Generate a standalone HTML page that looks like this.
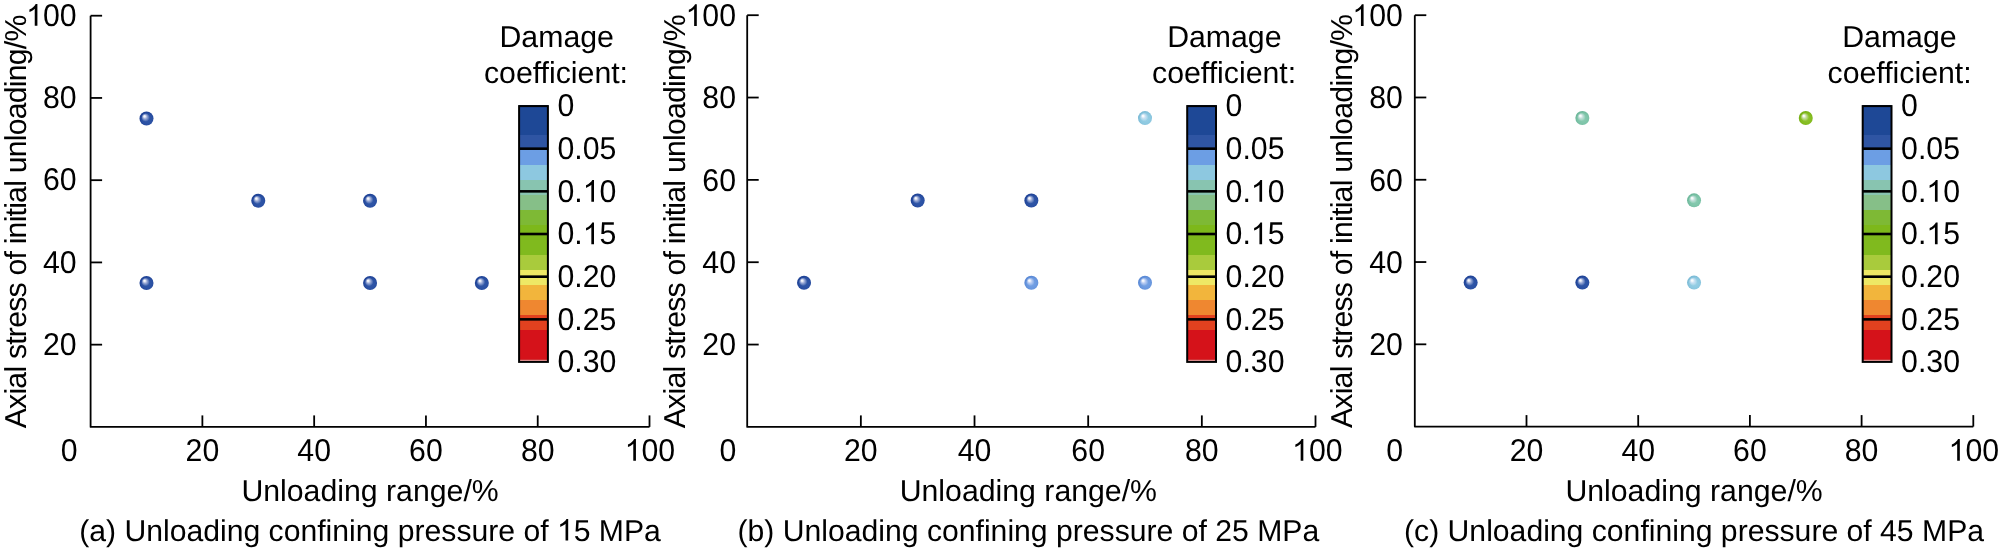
<!DOCTYPE html><html><head><meta charset="utf-8"><style>html,body{margin:0;padding:0;background:#fff;overflow:hidden;}svg{display:block;will-change:transform;}text{font-family:"Liberation Sans", sans-serif;fill:#000;text-rendering:geometricPrecision;}</style></head><body>
<svg width="2000" height="551" viewBox="0 0 2000 551">
<defs>
<radialGradient id="bdb" cx="0.55" cy="0.55" r="0.55"><stop offset="0" stop-color="#3259a9"/><stop offset="0.7" stop-color="#2a50a3"/><stop offset="1" stop-color="#1c3f93"/></radialGradient>
<radialGradient id="gdb" cx="0.5" cy="0.5" r="0.5" fx="0.34" fy="0.32"><stop offset="0" stop-color="#fff" stop-opacity="1"/><stop offset="0.13" stop-color="#fff" stop-opacity="0.9"/><stop offset="0.33" stop-color="#f4f0ff" stop-opacity="0.5"/><stop offset="0.6" stop-color="#fff" stop-opacity="0"/></radialGradient>
<radialGradient id="bmb" cx="0.55" cy="0.55" r="0.55"><stop offset="0" stop-color="#79a5e6"/><stop offset="0.7" stop-color="#6a98df"/><stop offset="1" stop-color="#5585d3"/></radialGradient>
<radialGradient id="gmb" cx="0.5" cy="0.5" r="0.5" fx="0.34" fy="0.32"><stop offset="0" stop-color="#fff" stop-opacity="1"/><stop offset="0.13" stop-color="#fff" stop-opacity="0.9"/><stop offset="0.33" stop-color="#f4f0ff" stop-opacity="0.5"/><stop offset="0.6" stop-color="#fff" stop-opacity="0"/></radialGradient>
<radialGradient id="blb" cx="0.55" cy="0.55" r="0.55"><stop offset="0" stop-color="#9ad0e6"/><stop offset="0.7" stop-color="#8cc8e0"/><stop offset="1" stop-color="#78b8d4"/></radialGradient>
<radialGradient id="glb" cx="0.5" cy="0.5" r="0.5" fx="0.34" fy="0.32"><stop offset="0" stop-color="#fff" stop-opacity="1"/><stop offset="0.13" stop-color="#fff" stop-opacity="0.9"/><stop offset="0.33" stop-color="#f4f0ff" stop-opacity="0.5"/><stop offset="0.6" stop-color="#fff" stop-opacity="0"/></radialGradient>
<radialGradient id="btl" cx="0.55" cy="0.55" r="0.55"><stop offset="0" stop-color="#8bccb3"/><stop offset="0.7" stop-color="#7dc4a8"/><stop offset="1" stop-color="#69b598"/></radialGradient>
<radialGradient id="gtl" cx="0.5" cy="0.5" r="0.5" fx="0.34" fy="0.32"><stop offset="0" stop-color="#fff" stop-opacity="1"/><stop offset="0.13" stop-color="#fff" stop-opacity="0.9"/><stop offset="0.33" stop-color="#f4f0ff" stop-opacity="0.5"/><stop offset="0.6" stop-color="#fff" stop-opacity="0"/></radialGradient>
<radialGradient id="bgr" cx="0.55" cy="0.55" r="0.55"><stop offset="0" stop-color="#92c534"/><stop offset="0.7" stop-color="#84bc1f"/><stop offset="1" stop-color="#74ad12"/></radialGradient>
<radialGradient id="ggr" cx="0.5" cy="0.5" r="0.5" fx="0.34" fy="0.32"><stop offset="0" stop-color="#fff" stop-opacity="1"/><stop offset="0.13" stop-color="#fff" stop-opacity="0.9"/><stop offset="0.33" stop-color="#f4f0ff" stop-opacity="0.5"/><stop offset="0.6" stop-color="#fff" stop-opacity="0"/></radialGradient>
</defs>
<rect width="2000" height="551" fill="#fff"/>
<path d="M90.6 15.7 V426.9 H649.5" fill="none" stroke="#000" stroke-width="1.8" stroke-linejoin="round"/>
<line x1="202.38" y1="426.9" x2="202.38" y2="415.4" stroke="#000" stroke-width="1.8"/>
<line x1="90.6" y1="344.66" x2="102.1" y2="344.66" stroke="#000" stroke-width="1.8"/>
<line x1="314.16" y1="426.9" x2="314.16" y2="415.4" stroke="#000" stroke-width="1.8"/>
<line x1="90.6" y1="262.42" x2="102.1" y2="262.42" stroke="#000" stroke-width="1.8"/>
<line x1="425.94" y1="426.9" x2="425.94" y2="415.4" stroke="#000" stroke-width="1.8"/>
<line x1="90.6" y1="180.18" x2="102.1" y2="180.18" stroke="#000" stroke-width="1.8"/>
<line x1="537.72" y1="426.9" x2="537.72" y2="415.4" stroke="#000" stroke-width="1.8"/>
<line x1="90.6" y1="97.94" x2="102.1" y2="97.94" stroke="#000" stroke-width="1.8"/>
<line x1="649.50" y1="426.9" x2="649.50" y2="415.4" stroke="#000" stroke-width="1.8"/>
<line x1="90.6" y1="15.70" x2="102.1" y2="15.70" stroke="#000" stroke-width="1.8"/>
<text transform="translate(60.64 460.80) scale(1 1.04)" font-size="30.25">0</text>
<text transform="translate(185.56 460.80) scale(1 1.04)" font-size="30.25">20</text>
<text transform="translate(297.34 460.80) scale(1 1.04)" font-size="30.25">40</text>
<text transform="translate(409.12 460.80) scale(1 1.04)" font-size="30.25">60</text>
<text transform="translate(520.90 460.80) scale(1 1.04)" font-size="30.25">80</text>
<text transform="translate(624.66 460.80) scale(1 1.04)" font-size="30.25"> 00</text><path transform="translate(624.66 460.80) scale(0.014771 -0.014771)" d="M763 0H583V1147Q518 1085 412.5 1023Q307 961 223 930V1104Q374 1175 487 1276Q600 1377 647 1472H763Z"/>
<text transform="translate(42.95 354.76) scale(1 1.04)" font-size="30.25">20</text>
<text transform="translate(42.95 272.52) scale(1 1.04)" font-size="30.25">40</text>
<text transform="translate(42.95 190.28) scale(1 1.04)" font-size="30.25">60</text>
<text transform="translate(42.95 108.04) scale(1 1.04)" font-size="30.25">80</text>
<text transform="translate(26.13 25.80) scale(1 1.04)" font-size="30.25"> 00</text><path transform="translate(26.13 25.80) scale(0.014771 -0.014771)" d="M763 0H583V1147Q518 1085 412.5 1023Q307 961 223 930V1104Q374 1175 487 1276Q600 1377 647 1472H763Z"/>
<text x="370.05" y="500.6" font-size="30.25" text-anchor="middle">Unloading range/%</text>
<text id="capa" x="370.05" y="540.6" font-size="30.17" text-anchor="middle">(a) Unloading confining pressure of  5 MPa</text>
<path transform="translate(556.95 540.6) scale(0.014731 -0.014731)" d="M763 0H583V1147Q518 1085 412.5 1023Q307 961 223 930V1104Q374 1175 487 1276Q600 1377 647 1472H763Z"/>
<text transform="translate(25.6 221.50) rotate(-90)" x="0" y="0" font-size="30.25" text-anchor="middle" textLength="413.6" lengthAdjust="spacing">Axial stress of initial unloading/%</text>
<text x="556.70" y="46.5" font-size="30.25" text-anchor="middle">Damage</text>
<text x="556.00" y="82.5" font-size="30.25" text-anchor="middle">coefficient:</text>
<rect x="519.00" y="105" width="29" height="30" fill="#1e4896"/>
<rect x="519.00" y="135" width="29" height="15" fill="#2f55a3"/>
<rect x="519.00" y="150" width="29" height="15" fill="#6c9ee4"/>
<rect x="519.00" y="165" width="29" height="15" fill="#8dc8e0"/>
<rect x="519.00" y="180" width="29" height="15" fill="#88c4b0"/>
<rect x="519.00" y="195" width="29" height="15" fill="#86bf88"/>
<rect x="519.00" y="210" width="29" height="15" fill="#7eb935"/>
<rect x="519.00" y="225" width="29" height="15" fill="#7db81b"/>
<rect x="519.00" y="240" width="29" height="15" fill="#80ba1e"/>
<rect x="519.00" y="255" width="29" height="15" fill="#a9cb3c"/>
<rect x="519.00" y="270" width="29" height="15" fill="#eee865"/>
<rect x="519.00" y="285" width="29" height="15" fill="#f2b53c"/>
<rect x="519.00" y="300" width="29" height="15" fill="#ef8730"/>
<rect x="519.00" y="315" width="29" height="15" fill="#e2411f"/>
<rect x="519.00" y="330" width="29" height="29" fill="#d5121a"/>
<rect x="519.00" y="359" width="29" height="0.8999999999999773" fill="#c80c12"/>
<rect x="519.00" y="359.9" width="29" height="1.1000000000000227" fill="#f19a9a"/>
<line x1="519.00" y1="148.67" x2="548.00" y2="148.67" stroke="#000" stroke-width="2.6"/>
<line x1="519.00" y1="191.34" x2="548.00" y2="191.34" stroke="#000" stroke-width="2.6"/>
<line x1="519.00" y1="234.01" x2="548.00" y2="234.01" stroke="#000" stroke-width="2.6"/>
<line x1="519.00" y1="276.68" x2="548.00" y2="276.68" stroke="#000" stroke-width="2.6"/>
<line x1="519.00" y1="319.35" x2="548.00" y2="319.35" stroke="#000" stroke-width="2.6"/>
<rect x="519.10" y="106.1" width="28.8" height="255.8" fill="none" stroke="#000" stroke-width="2"/>
<text transform="translate(557.50 116.30) scale(1 1.04)" font-size="30.25">0</text>
<text transform="translate(557.50 158.97) scale(1 1.04)" font-size="30.25">0.05</text>
<text transform="translate(557.50 201.64) scale(1 1.04)" font-size="30.25">0. 0</text><path transform="translate(582.73 201.64) scale(0.014771 -0.014771)" d="M763 0H583V1147Q518 1085 412.5 1023Q307 961 223 930V1104Q374 1175 487 1276Q600 1377 647 1472H763Z"/>
<text transform="translate(557.50 244.31) scale(1 1.04)" font-size="30.25">0. 5</text><path transform="translate(582.73 244.31) scale(0.014771 -0.014771)" d="M763 0H583V1147Q518 1085 412.5 1023Q307 961 223 930V1104Q374 1175 487 1276Q600 1377 647 1472H763Z"/>
<text transform="translate(557.50 286.98) scale(1 1.04)" font-size="30.25">0.20</text>
<text transform="translate(557.50 329.65) scale(1 1.04)" font-size="30.25">0.25</text>
<text transform="translate(557.50 372.32) scale(1 1.04)" font-size="30.25">0.30</text>
<circle cx="146.49" cy="118.50" r="7" fill="url(#bdb)"/>
<circle cx="146.49" cy="118.50" r="7" fill="url(#gdb)"/>
<circle cx="258.27" cy="200.74" r="7" fill="url(#bdb)"/>
<circle cx="258.27" cy="200.74" r="7" fill="url(#gdb)"/>
<circle cx="370.05" cy="200.74" r="7" fill="url(#bdb)"/>
<circle cx="370.05" cy="200.74" r="7" fill="url(#gdb)"/>
<circle cx="146.49" cy="282.98" r="7" fill="url(#bdb)"/>
<circle cx="146.49" cy="282.98" r="7" fill="url(#gdb)"/>
<circle cx="370.05" cy="282.98" r="7" fill="url(#bdb)"/>
<circle cx="370.05" cy="282.98" r="7" fill="url(#gdb)"/>
<circle cx="481.83" cy="282.98" r="7" fill="url(#bdb)"/>
<circle cx="481.83" cy="282.98" r="7" fill="url(#gdb)"/>
<path d="M747.2 15.2 V426.9 H1315.5" fill="none" stroke="#000" stroke-width="1.8" stroke-linejoin="round"/>
<line x1="860.86" y1="426.9" x2="860.86" y2="415.4" stroke="#000" stroke-width="1.8"/>
<line x1="747.2" y1="344.56" x2="758.7" y2="344.56" stroke="#000" stroke-width="1.8"/>
<line x1="974.52" y1="426.9" x2="974.52" y2="415.4" stroke="#000" stroke-width="1.8"/>
<line x1="747.2" y1="262.22" x2="758.7" y2="262.22" stroke="#000" stroke-width="1.8"/>
<line x1="1088.18" y1="426.9" x2="1088.18" y2="415.4" stroke="#000" stroke-width="1.8"/>
<line x1="747.2" y1="179.88" x2="758.7" y2="179.88" stroke="#000" stroke-width="1.8"/>
<line x1="1201.84" y1="426.9" x2="1201.84" y2="415.4" stroke="#000" stroke-width="1.8"/>
<line x1="747.2" y1="97.54" x2="758.7" y2="97.54" stroke="#000" stroke-width="1.8"/>
<line x1="1315.50" y1="426.9" x2="1315.50" y2="415.4" stroke="#000" stroke-width="1.8"/>
<line x1="747.2" y1="15.20" x2="758.7" y2="15.20" stroke="#000" stroke-width="1.8"/>
<text transform="translate(719.39 460.80) scale(1 1.04)" font-size="30.25">0</text>
<text transform="translate(844.04 460.80) scale(1 1.04)" font-size="30.25">20</text>
<text transform="translate(957.70 460.80) scale(1 1.04)" font-size="30.25">40</text>
<text transform="translate(1071.36 460.80) scale(1 1.04)" font-size="30.25">60</text>
<text transform="translate(1185.02 460.80) scale(1 1.04)" font-size="30.25">80</text>
<text transform="translate(1292.06 460.80) scale(1 1.04)" font-size="30.25"> 00</text><path transform="translate(1292.06 460.80) scale(0.014771 -0.014771)" d="M763 0H583V1147Q518 1085 412.5 1023Q307 961 223 930V1104Q374 1175 487 1276Q600 1377 647 1472H763Z"/>
<text transform="translate(702.35 355.36) scale(1 1.04)" font-size="30.25">20</text>
<text transform="translate(702.35 273.02) scale(1 1.04)" font-size="30.25">40</text>
<text transform="translate(702.35 190.68) scale(1 1.04)" font-size="30.25">60</text>
<text transform="translate(702.35 108.34) scale(1 1.04)" font-size="30.25">80</text>
<text transform="translate(685.53 26.00) scale(1 1.04)" font-size="30.25"> 00</text><path transform="translate(685.53 26.00) scale(0.014771 -0.014771)" d="M763 0H583V1147Q518 1085 412.5 1023Q307 961 223 930V1104Q374 1175 487 1276Q600 1377 647 1472H763Z"/>
<text x="1028.35" y="500.6" font-size="30.25" text-anchor="middle">Unloading range/%</text>
<text id="capb" x="1028.35" y="540.6" font-size="30.17" text-anchor="middle">(b) Unloading confining pressure of 25 MPa</text>
<text transform="translate(684.7 221.35) rotate(-90)" x="0" y="0" font-size="30.25" text-anchor="middle" textLength="413.9" lengthAdjust="spacing">Axial stress of initial unloading/%</text>
<text x="1224.30" y="46.5" font-size="30.25" text-anchor="middle">Damage</text>
<text x="1224.10" y="82.5" font-size="30.25" text-anchor="middle">coefficient:</text>
<rect x="1187.10" y="105" width="29" height="30" fill="#1e4896"/>
<rect x="1187.10" y="135" width="29" height="15" fill="#2f55a3"/>
<rect x="1187.10" y="150" width="29" height="15" fill="#6c9ee4"/>
<rect x="1187.10" y="165" width="29" height="15" fill="#8dc8e0"/>
<rect x="1187.10" y="180" width="29" height="15" fill="#88c4b0"/>
<rect x="1187.10" y="195" width="29" height="15" fill="#86bf88"/>
<rect x="1187.10" y="210" width="29" height="15" fill="#7eb935"/>
<rect x="1187.10" y="225" width="29" height="15" fill="#7db81b"/>
<rect x="1187.10" y="240" width="29" height="15" fill="#80ba1e"/>
<rect x="1187.10" y="255" width="29" height="15" fill="#a9cb3c"/>
<rect x="1187.10" y="270" width="29" height="15" fill="#eee865"/>
<rect x="1187.10" y="285" width="29" height="15" fill="#f2b53c"/>
<rect x="1187.10" y="300" width="29" height="15" fill="#ef8730"/>
<rect x="1187.10" y="315" width="29" height="15" fill="#e2411f"/>
<rect x="1187.10" y="330" width="29" height="29" fill="#d5121a"/>
<rect x="1187.10" y="359" width="29" height="0.8999999999999773" fill="#c80c12"/>
<rect x="1187.10" y="359.9" width="29" height="1.1000000000000227" fill="#f19a9a"/>
<line x1="1187.10" y1="148.67" x2="1216.10" y2="148.67" stroke="#000" stroke-width="2.6"/>
<line x1="1187.10" y1="191.34" x2="1216.10" y2="191.34" stroke="#000" stroke-width="2.6"/>
<line x1="1187.10" y1="234.01" x2="1216.10" y2="234.01" stroke="#000" stroke-width="2.6"/>
<line x1="1187.10" y1="276.68" x2="1216.10" y2="276.68" stroke="#000" stroke-width="2.6"/>
<line x1="1187.10" y1="319.35" x2="1216.10" y2="319.35" stroke="#000" stroke-width="2.6"/>
<rect x="1187.20" y="106.1" width="28.8" height="255.8" fill="none" stroke="#000" stroke-width="2"/>
<text transform="translate(1225.60 116.30) scale(1 1.04)" font-size="30.25">0</text>
<text transform="translate(1225.60 158.97) scale(1 1.04)" font-size="30.25">0.05</text>
<text transform="translate(1225.60 201.64) scale(1 1.04)" font-size="30.25">0. 0</text><path transform="translate(1250.83 201.64) scale(0.014771 -0.014771)" d="M763 0H583V1147Q518 1085 412.5 1023Q307 961 223 930V1104Q374 1175 487 1276Q600 1377 647 1472H763Z"/>
<text transform="translate(1225.60 244.31) scale(1 1.04)" font-size="30.25">0. 5</text><path transform="translate(1250.83 244.31) scale(0.014771 -0.014771)" d="M763 0H583V1147Q518 1085 412.5 1023Q307 961 223 930V1104Q374 1175 487 1276Q600 1377 647 1472H763Z"/>
<text transform="translate(1225.60 286.98) scale(1 1.04)" font-size="30.25">0.20</text>
<text transform="translate(1225.60 329.65) scale(1 1.04)" font-size="30.25">0.25</text>
<text transform="translate(1225.60 372.32) scale(1 1.04)" font-size="30.25">0.30</text>
<circle cx="1145.01" cy="118.12" r="7" fill="url(#blb)"/>
<circle cx="1145.01" cy="118.12" r="7" fill="url(#glb)"/>
<circle cx="917.69" cy="200.46" r="7" fill="url(#bdb)"/>
<circle cx="917.69" cy="200.46" r="7" fill="url(#gdb)"/>
<circle cx="1031.35" cy="200.46" r="7" fill="url(#bdb)"/>
<circle cx="1031.35" cy="200.46" r="7" fill="url(#gdb)"/>
<circle cx="804.03" cy="282.80" r="7" fill="url(#bdb)"/>
<circle cx="804.03" cy="282.80" r="7" fill="url(#gdb)"/>
<circle cx="1031.35" cy="282.80" r="7" fill="url(#bmb)"/>
<circle cx="1031.35" cy="282.80" r="7" fill="url(#gmb)"/>
<circle cx="1145.01" cy="282.80" r="7" fill="url(#bmb)"/>
<circle cx="1145.01" cy="282.80" r="7" fill="url(#gmb)"/>
<path d="M1414.8 15.2 V426.6 H1973.3" fill="none" stroke="#000" stroke-width="1.8" stroke-linejoin="round"/>
<line x1="1526.50" y1="426.6" x2="1526.50" y2="415.1" stroke="#000" stroke-width="1.8"/>
<line x1="1414.8" y1="344.32" x2="1426.3" y2="344.32" stroke="#000" stroke-width="1.8"/>
<line x1="1638.20" y1="426.6" x2="1638.20" y2="415.1" stroke="#000" stroke-width="1.8"/>
<line x1="1414.8" y1="262.04" x2="1426.3" y2="262.04" stroke="#000" stroke-width="1.8"/>
<line x1="1749.90" y1="426.6" x2="1749.90" y2="415.1" stroke="#000" stroke-width="1.8"/>
<line x1="1414.8" y1="179.76" x2="1426.3" y2="179.76" stroke="#000" stroke-width="1.8"/>
<line x1="1861.60" y1="426.6" x2="1861.60" y2="415.1" stroke="#000" stroke-width="1.8"/>
<line x1="1414.8" y1="97.48" x2="1426.3" y2="97.48" stroke="#000" stroke-width="1.8"/>
<line x1="1973.30" y1="426.6" x2="1973.30" y2="415.1" stroke="#000" stroke-width="1.8"/>
<line x1="1414.8" y1="15.20" x2="1426.3" y2="15.20" stroke="#000" stroke-width="1.8"/>
<text transform="translate(1386.29 460.80) scale(1 1.04)" font-size="30.25">0</text>
<text transform="translate(1509.68 460.80) scale(1 1.04)" font-size="30.25">20</text>
<text transform="translate(1621.38 460.80) scale(1 1.04)" font-size="30.25">40</text>
<text transform="translate(1733.08 460.80) scale(1 1.04)" font-size="30.25">60</text>
<text transform="translate(1844.78 460.80) scale(1 1.04)" font-size="30.25">80</text>
<text transform="translate(1948.56 460.80) scale(1 1.04)" font-size="30.25"> 00</text><path transform="translate(1948.56 460.80) scale(0.014771 -0.014771)" d="M763 0H583V1147Q518 1085 412.5 1023Q307 961 223 930V1104Q374 1175 487 1276Q600 1377 647 1472H763Z"/>
<text transform="translate(1369.15 355.12) scale(1 1.04)" font-size="30.25">20</text>
<text transform="translate(1369.15 272.84) scale(1 1.04)" font-size="30.25">40</text>
<text transform="translate(1369.15 190.56) scale(1 1.04)" font-size="30.25">60</text>
<text transform="translate(1369.15 108.28) scale(1 1.04)" font-size="30.25">80</text>
<text transform="translate(1352.33 26.00) scale(1 1.04)" font-size="30.25"> 00</text><path transform="translate(1352.33 26.00) scale(0.014771 -0.014771)" d="M763 0H583V1147Q518 1085 412.5 1023Q307 961 223 930V1104Q374 1175 487 1276Q600 1377 647 1472H763Z"/>
<text x="1694.05" y="500.6" font-size="30.25" text-anchor="middle">Unloading range/%</text>
<text id="capc" x="1694.05" y="540.6" font-size="30.17" text-anchor="middle">(c) Unloading confining pressure of 45 MPa</text>
<text transform="translate(1351.5 221.05) rotate(-90)" x="0" y="0" font-size="30.25" text-anchor="middle" textLength="414.1" lengthAdjust="spacing">Axial stress of initial unloading/%</text>
<text x="1899.40" y="46.5" font-size="30.25" text-anchor="middle">Damage</text>
<text x="1899.60" y="82.5" font-size="30.25" text-anchor="middle">coefficient:</text>
<rect x="1862.60" y="105" width="29" height="30" fill="#1e4896"/>
<rect x="1862.60" y="135" width="29" height="15" fill="#2f55a3"/>
<rect x="1862.60" y="150" width="29" height="15" fill="#6c9ee4"/>
<rect x="1862.60" y="165" width="29" height="15" fill="#8dc8e0"/>
<rect x="1862.60" y="180" width="29" height="15" fill="#88c4b0"/>
<rect x="1862.60" y="195" width="29" height="15" fill="#86bf88"/>
<rect x="1862.60" y="210" width="29" height="15" fill="#7eb935"/>
<rect x="1862.60" y="225" width="29" height="15" fill="#7db81b"/>
<rect x="1862.60" y="240" width="29" height="15" fill="#80ba1e"/>
<rect x="1862.60" y="255" width="29" height="15" fill="#a9cb3c"/>
<rect x="1862.60" y="270" width="29" height="15" fill="#eee865"/>
<rect x="1862.60" y="285" width="29" height="15" fill="#f2b53c"/>
<rect x="1862.60" y="300" width="29" height="15" fill="#ef8730"/>
<rect x="1862.60" y="315" width="29" height="15" fill="#e2411f"/>
<rect x="1862.60" y="330" width="29" height="29" fill="#d5121a"/>
<rect x="1862.60" y="359" width="29" height="0.8999999999999773" fill="#c80c12"/>
<rect x="1862.60" y="359.9" width="29" height="1.1000000000000227" fill="#f19a9a"/>
<line x1="1862.60" y1="148.67" x2="1891.60" y2="148.67" stroke="#000" stroke-width="2.6"/>
<line x1="1862.60" y1="191.34" x2="1891.60" y2="191.34" stroke="#000" stroke-width="2.6"/>
<line x1="1862.60" y1="234.01" x2="1891.60" y2="234.01" stroke="#000" stroke-width="2.6"/>
<line x1="1862.60" y1="276.68" x2="1891.60" y2="276.68" stroke="#000" stroke-width="2.6"/>
<line x1="1862.60" y1="319.35" x2="1891.60" y2="319.35" stroke="#000" stroke-width="2.6"/>
<rect x="1862.70" y="106.1" width="28.8" height="255.8" fill="none" stroke="#000" stroke-width="2"/>
<text transform="translate(1901.10 116.30) scale(1 1.04)" font-size="30.25">0</text>
<text transform="translate(1901.10 158.97) scale(1 1.04)" font-size="30.25">0.05</text>
<text transform="translate(1901.10 201.64) scale(1 1.04)" font-size="30.25">0. 0</text><path transform="translate(1926.33 201.64) scale(0.014771 -0.014771)" d="M763 0H583V1147Q518 1085 412.5 1023Q307 961 223 930V1104Q374 1175 487 1276Q600 1377 647 1472H763Z"/>
<text transform="translate(1901.10 244.31) scale(1 1.04)" font-size="30.25">0. 5</text><path transform="translate(1926.33 244.31) scale(0.014771 -0.014771)" d="M763 0H583V1147Q518 1085 412.5 1023Q307 961 223 930V1104Q374 1175 487 1276Q600 1377 647 1472H763Z"/>
<text transform="translate(1901.10 286.98) scale(1 1.04)" font-size="30.25">0.20</text>
<text transform="translate(1901.10 329.65) scale(1 1.04)" font-size="30.25">0.25</text>
<text transform="translate(1901.10 372.32) scale(1 1.04)" font-size="30.25">0.30</text>
<circle cx="1582.35" cy="118.05" r="7" fill="url(#btl)"/>
<circle cx="1582.35" cy="118.05" r="7" fill="url(#gtl)"/>
<circle cx="1805.75" cy="118.05" r="7" fill="url(#bgr)"/>
<circle cx="1805.75" cy="118.05" r="7" fill="url(#ggr)"/>
<circle cx="1694.05" cy="200.33" r="7" fill="url(#btl)"/>
<circle cx="1694.05" cy="200.33" r="7" fill="url(#gtl)"/>
<circle cx="1470.65" cy="282.61" r="7" fill="url(#bdb)"/>
<circle cx="1470.65" cy="282.61" r="7" fill="url(#gdb)"/>
<circle cx="1582.35" cy="282.61" r="7" fill="url(#bdb)"/>
<circle cx="1582.35" cy="282.61" r="7" fill="url(#gdb)"/>
<circle cx="1694.05" cy="282.61" r="7" fill="url(#blb)"/>
<circle cx="1694.05" cy="282.61" r="7" fill="url(#glb)"/>
</svg></body></html>
